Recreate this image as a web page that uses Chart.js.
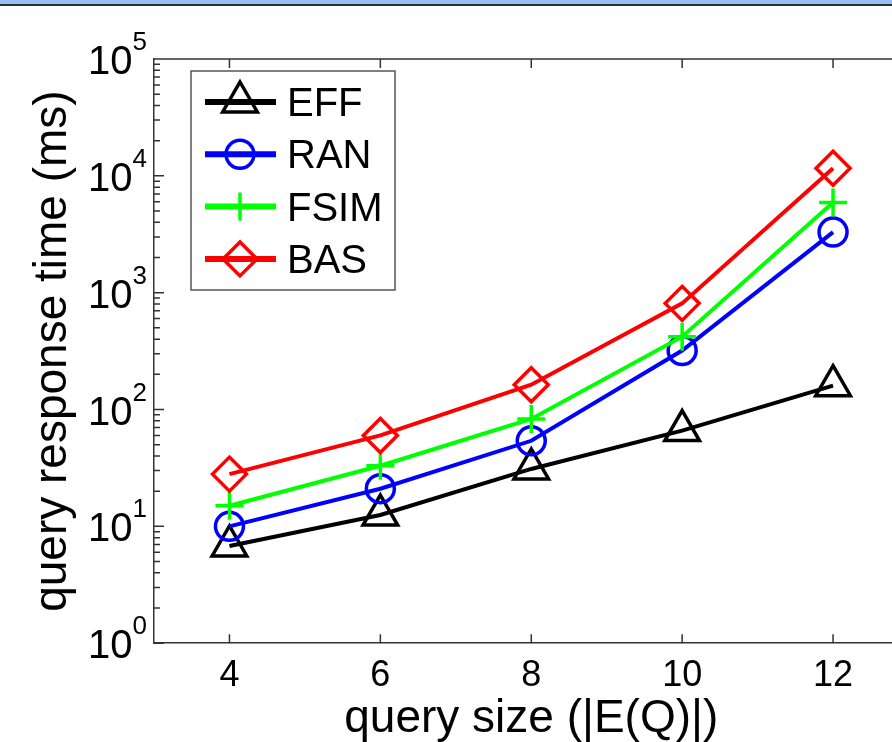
<!DOCTYPE html>
<html>
<head>
<meta charset="utf-8">
<script src="https://cdn.jsdelivr.net/npm/chart.js@4.4.0/dist/chart.umd.min.js"></script>
<style>
  html, body { margin: 0; padding: 0; background: #fff; overflow: hidden; }
  #wrap { position: relative; width: 892px; height: 742px; overflow: hidden; }
  #bar { position: absolute; left: 0; top: 0; width: 892px; height: 4px; background: #93c0f0; border-bottom: 2px solid #2e2e2e; z-index: 2; }
  canvas { position: absolute; left: 0; top: 0; }
</style>
</head>
<body>
<div id="wrap">
  <div id="bar"></div>
  <canvas id="chart" width="932" height="742" style="width:932px;height:742px"></canvas>
</div>
<script>
// data (log scale)
const querySizes = [4, 6, 8, 10, 12];
const eff  = [6.8, 12.5, 31, 66, 160];
const ran  = [10, 21, 54, 320, 3300];
const fsim = [15, 33, 83, 420, 5900];
const bas  = [28, 60, 163, 810, 11600];

const xTicks = [4, 6, 8, 10, 12];
const yTicks = [1, 10, 100, 1000, 10000, 100000];
const yTickBase = '10';
const yTickExp = ['0', '1', '2', '3', '4', '5'];

const FONT = "'Liberation Sans', Arial, sans-serif";

function pts(vals) {
  return querySizes.map((x, i) => ({ x: x, y: vals[i] }));
}

function series(label, vals, color, style, radius, order) {
  return {
    label: label,
    data: pts(vals),
    borderColor: color,
    backgroundColor: 'rgba(0,0,0,0)',
    borderWidth: 4,
    pointStyle: style,
    pointRadius: radius,
    pointHoverRadius: radius,
    pointBorderWidth: 3.5,
    pointBackgroundColor: 'rgba(0,0,0,0)',
    pointBorderColor: color,
    tension: 0,
    order: order
  };
}

// hand-drawn marker for the legend box
function drawMarker(ctx, style, x, y, r, color, lw) {
  ctx.save();
  ctx.strokeStyle = color;
  ctx.lineWidth = lw;
  ctx.beginPath();
  if (style === 'triangle') {
    ctx.moveTo(x, y - r);
    ctx.lineTo(x + 0.866 * r, y + 0.5 * r);
    ctx.lineTo(x - 0.866 * r, y + 0.5 * r);
    ctx.closePath();
  } else if (style === 'circle') {
    ctx.arc(x, y, r, 0, Math.PI * 2);
  } else if (style === 'cross') {
    ctx.moveTo(x, y - r); ctx.lineTo(x, y + r);
    ctx.moveTo(x - r, y); ctx.lineTo(x + r, y);
  } else if (style === 'rectRot') {
    ctx.moveTo(x - r, y); ctx.lineTo(x, y - r);
    ctx.lineTo(x + r, y); ctx.lineTo(x, y + r);
    ctx.closePath();
  }
  ctx.stroke();
  ctx.restore();
}

const framePlugin = {
  id: 'frame',
  afterDraw(chart) {
    const ctx = chart.ctx;
    const a = chart.chartArea;
    const xs = chart.scales.x, ys = chart.scales.y;
    ctx.save();
    ctx.strokeStyle = '#333';
    ctx.lineWidth = 1.5;
    ctx.beginPath();
    ctx.moveTo(a.left, a.top); ctx.lineTo(a.right, a.top);
    ctx.moveTo(a.right, a.top); ctx.lineTo(a.right, a.bottom);
    // inward x ticks, bottom and top
    xTicks.forEach(v => {
      const px = xs.getPixelForValue(v);
      ctx.moveTo(px, a.bottom); ctx.lineTo(px, a.bottom - 9);
      ctx.moveTo(px, a.top); ctx.lineTo(px, a.top + 9);
    });
    // inward y ticks, major and minor
    for (let k = 0; k < 5; k++) {
      for (let m = 1; m <= 9; m++) {
        const py = ys.getPixelForValue(m * Math.pow(10, k));
        const len = m === 1 ? 10 : 6;
        ctx.moveTo(a.left, py); ctx.lineTo(a.left + len, py);
        ctx.moveTo(a.right, py); ctx.lineTo(a.right - len, py);
      }
    }
    ctx.stroke();

    // y tick labels as 10 with a raised exponent
    ctx.fillStyle = '#000';
    ctx.textBaseline = 'alphabetic';
    ctx.textAlign = 'left';
    yTicks.forEach((v, i) => {
      const py = ys.getPixelForValue(v);
      ctx.font = '26px ' + FONT;
      const ew = ctx.measureText(yTickExp[i]).width;
      ctx.font = '40px ' + FONT;
      const bw = ctx.measureText(yTickBase).width;
      const right = a.left - 7;
      ctx.fillText(yTickBase, right - ew - bw, py + 15);
      ctx.font = '26px ' + FONT;
      ctx.fillText(yTickExp[i], right - ew, py - 9);
    });
    ctx.restore();

    // legend box
    const bx = a.left + 37, by = a.top + 12, bw = 204, bh = 219;
    ctx.save();
    ctx.fillStyle = '#fff';
    ctx.fillRect(bx, by, bw, bh);
    ctx.strokeStyle = '#555';
    ctx.lineWidth = 1.5;
    ctx.strokeRect(bx, by, bw, bh);
    ctx.font = '40px ' + FONT;
    ctx.textBaseline = 'alphabetic';
    ctx.fillStyle = '#000';
    chart.data.datasets.forEach((ds, i) => {
      const ry = by + 31 + i * 52.3;
      ctx.strokeStyle = ds.borderColor;
      ctx.lineWidth = 6;
      ctx.beginPath();
      ctx.moveTo(bx + 14, ry); ctx.lineTo(bx + 85, ry);
      ctx.stroke();
      drawMarker(ctx, ds.pointStyle, bx + 49, ry, ds.pointRadius, ds.borderColor, 3.5);
      ctx.fillText(ds.label, bx + 96, ry + 14);
    });
    ctx.restore();
  }
};

const ctx = document.getElementById('chart').getContext('2d');
const chart = new Chart(ctx, {
  type: 'line',
  data: {
    datasets: [
      series('EFF', eff, '#000000', 'triangle', 20, 3),
      series('RAN', ran, '#0000ff', 'circle', 14, 2),
      series('FSIM', fsim, '#00ff00', 'cross', 14, 1),
      series('BAS', bas, '#ff0000', 'rectRot', 17, 0)
    ]
  },
  options: {
    responsive: false,
    animation: false,
    devicePixelRatio: 1,
    layout: { padding: { left: 30, top: 59, right: 5, bottom: 0 } },
    plugins: {
      legend: { display: false },
      tooltip: { enabled: false }
    },
    scales: {
      x: {
        type: 'linear',
        min: 3,
        max: 13,
        afterBuildTicks: s => { s.ticks = xTicks.map(v => ({ value: v })); },
        grid: { display: true, drawOnChartArea: false, drawTicks: false },
        border: { display: true, color: '#333', width: 1.5 },
        ticks: { color: '#000', font: { family: FONT, size: 36, lineHeight: 1.0 }, padding: 15, maxRotation: 0 },
        title: {
          display: true,
          text: 'query size (|E(Q)|)',
          color: '#000',
          font: { family: FONT, size: 46, lineHeight: 0.8 },
          padding: { top: -8, bottom: 4 }
        }
      },
      y: {
        type: 'logarithmic',
        min: 1,
        max: 100000,
        afterBuildTicks: s => { s.ticks = yTicks.map(v => ({ value: v })); },
        grid: { display: true, drawOnChartArea: false, drawTicks: false },
        border: { display: true, color: '#333', width: 1.5 },
        ticks: { display: false },
        title: {
          display: true,
          text: 'query response time (ms)',
          color: '#000',
          font: { family: FONT, size: 46, lineHeight: 1.0 },
          padding: { top: 0, bottom: 78 }
        }
      }
    }
  },
  plugins: [framePlugin]
});
</script>
</body>
</html>
